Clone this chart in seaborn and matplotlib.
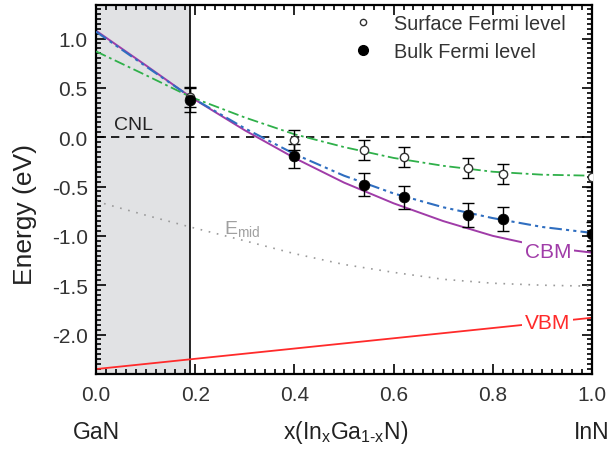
import numpy as np
import pandas as pd
import matplotlib
matplotlib.use("Agg")
import matplotlib.pyplot as plt
import seaborn as sns
from matplotlib.lines import Line2D
from matplotlib.ticker import MultipleLocator
import matplotlib.transforms as mtransforms

# ---- data ----
x_meas = [0.19, 0.40, 0.54, 0.62, 0.75, 0.82, 1.00]
surface_E = [0.41, -0.03, -0.13, -0.20, -0.31, -0.37, -0.40]
surface_err = [0.10, 0.10, 0.10, 0.10, 0.10, 0.10, 0.10]
bulk_E = [0.38, -0.19, -0.48, -0.61, -0.79, -0.83, -0.98]
bulk_err = [0.12, 0.12, 0.12, 0.12, 0.12, 0.12, 0.12]

x_curve = [0.0, 0.1, 0.19, 0.3, 0.4, 0.5, 0.6, 0.7, 0.8, 0.9, 1.0]
cbm = [1.08, 0.73, 0.41, 0.07, -0.21, -0.46, -0.67, -0.85, -1.00, -1.11, -1.17]
bulk_fit = [1.07, 0.72, 0.41, 0.09, -0.17, -0.39, -0.57, -0.71, -0.82, -0.91, -0.97]
surf_fit = [0.87, 0.63, 0.41, 0.20, 0.03, -0.10, -0.21, -0.29, -0.35, -0.38, -0.39]
e_mid = [-0.65, -0.79, -0.91, -1.05, -1.18, -1.29, -1.37, -1.44, -1.48, -1.50, -1.51]
x_vbm = [0.0, 1.0]
vbm = [-2.35, -1.83]

x_shade = 0.19
x_ticks = [0.0, 0.2, 0.4, 0.6, 0.8, 1.0]
y_ticks = [-2.0, -1.5, -1.0, -0.5, 0.0, 0.5, 1.0]

# ---- style ----
sns.set_style("ticks")
plt.rcParams['font.family'] = ['Liberation Sans', 'DejaVu Sans']
plt.rcParams['mathtext.default'] = 'regular'

fig = plt.figure(figsize=(6.15, 4.52), dpi=100)
ax = fig.add_axes([96/615, 1-375/452, (592-96)/615, (375-6)/452])

ax.axvspan(0, x_shade, color='#e1e2e4', zorder=0, lw=0)
ax.axvline(x_shade, color='black', lw=1.2, zorder=1)
ax.axhline(0, color='black', lw=1.2, ls=(0, (5, 4)), zorder=1)

curves = pd.DataFrame({'x': x_curve, 'cbm': cbm, 'bulk': bulk_fit,
                       'surf': surf_fit, 'emid': e_mid})
sns.lineplot(data=curves, x='x', y='emid', ax=ax, color='#9a9a9a', lw=1.2,
             ls=(0, (1, 4)), zorder=2)
sns.lineplot(data=curves, x='x', y='cbm', ax=ax, color='#a03ca8', lw=1.4, zorder=2)
sns.lineplot(data=curves, x='x', y='surf', ax=ax, color='#2fb04a', lw=1.3,
             ls=(0, (6, 2, 1.5, 2)), zorder=3)
sns.lineplot(data=curves, x='x', y='bulk', ax=ax, color='#2f6ec0', lw=1.5,
             ls=(0, (6, 2, 1.5, 2, 1.5, 2)), zorder=3)
vdf = pd.DataFrame({'x': x_vbm, 'vbm': vbm})
sns.lineplot(data=vdf, x='x', y='vbm', ax=ax, color='#ff2a2a', lw=1.3, zorder=2)

ax.errorbar(x_meas, surface_E, yerr=surface_err, fmt='none', ecolor='black',
            elinewidth=1.0, capsize=4, capthick=1.0, zorder=4)
ax.errorbar(x_meas, bulk_E, yerr=bulk_err, fmt='none', ecolor='black',
            elinewidth=1.0, capsize=4, capthick=1.0, zorder=4)
mdf_s = pd.DataFrame({'x': x_meas, 'E': surface_E})
mdf_b = pd.DataFrame({'x': x_meas, 'E': bulk_E})
sns.scatterplot(data=mdf_s, x='x', y='E', ax=ax, marker='o', s=36,
                facecolor='white', edgecolor='#333333', linewidth=1.0, zorder=5)
sns.scatterplot(data=mdf_b, x='x', y='E', ax=ax, marker='o', s=60,
                color='black', edgecolor='black', linewidth=0.5, zorder=5)

# labels on curves
ax.text(0.911, -1.16, 'CBM', color='#a03ca8', fontsize=15, ha='center', va='center',
        zorder=6, bbox=dict(facecolor='white', edgecolor='none', pad=2))
ax.text(0.911, -1.88, 'VBM', color='#ff2a2a', fontsize=15, ha='center', va='center',
        zorder=6, bbox=dict(facecolor='white', edgecolor='none', pad=2))
ax.text(0.075, 0.13, 'CNL', color='#222222', fontsize=14, ha='center', va='center')
ax.text(0.258, -0.92, r'E$_{mid}$', color='#a0a0a0', fontsize=14, ha='left', va='center')

ax.set_xlim(0, 1.0)
ax.set_ylim(-2.4, 1.34)
ax.set_xticks(x_ticks)
ax.set_yticks(y_ticks)
ax.set_xticklabels([f'{t:.1f}' for t in x_ticks])
ax.set_yticklabels([f'{t:.1f}' for t in y_ticks])
ax.xaxis.set_minor_locator(MultipleLocator(0.02))
ax.yaxis.set_minor_locator(MultipleLocator(0.05))
ax.tick_params(which='both', direction='in', top=True, right=True, colors='black',
               labelcolor='#333333', labelsize=15, width=1.2)
ax.tick_params(which='major', length=7)
ax.tick_params(axis='x', which='major', pad=8)
ax.tick_params(axis='y', which='major', pad=6)
ax.tick_params(which='minor', length=3.5)
for sp in ax.spines.values():
    sp.set_linewidth(1.6)
    sp.set_color('black')

ax.set_xlabel('')
ax.set_ylabel('')
ax.text(-0.143, 0.436, 'Energy (eV)', transform=ax.transAxes, rotation=90,
        fontsize=19, color='#222222', ha='center', va='center')
trans = mtransforms.blended_transform_factory(ax.transData, ax.transAxes)
ax.text(0.503, -0.173, 'x(In$_{x}$Ga$_{1\u2010x}$N)', transform=ax.transAxes,
        fontsize=16.5, ha='center', va='baseline', color='#222222')
ax.text(0.0, -0.173, 'GaN', transform=trans, fontsize=16.5, ha='center', va='baseline',
        color='#222222')
ax.text(1.0, -0.173, 'InN', transform=trans, fontsize=16.5, ha='center', va='baseline',
        color='#222222')

handles = [Line2D([], [], ls='none', marker='o', markersize=4.5, markerfacecolor='white',
                  markeredgecolor='#333333', markeredgewidth=1.0),
           Line2D([], [], ls='none', marker='o', markersize=7, color='black')]
ax.legend(handles, ['Surface Fermi level', 'Bulk Fermi level'], loc='upper left',
          frameon=False, fontsize=14.3, handlelength=1.0, handletextpad=1.06,
          labelspacing=0.45, borderpad=0, borderaxespad=0,
          bbox_to_anchor=(0.518, 0.975), labelcolor='#333333')

fig.savefig('out.png', dpi=100)
